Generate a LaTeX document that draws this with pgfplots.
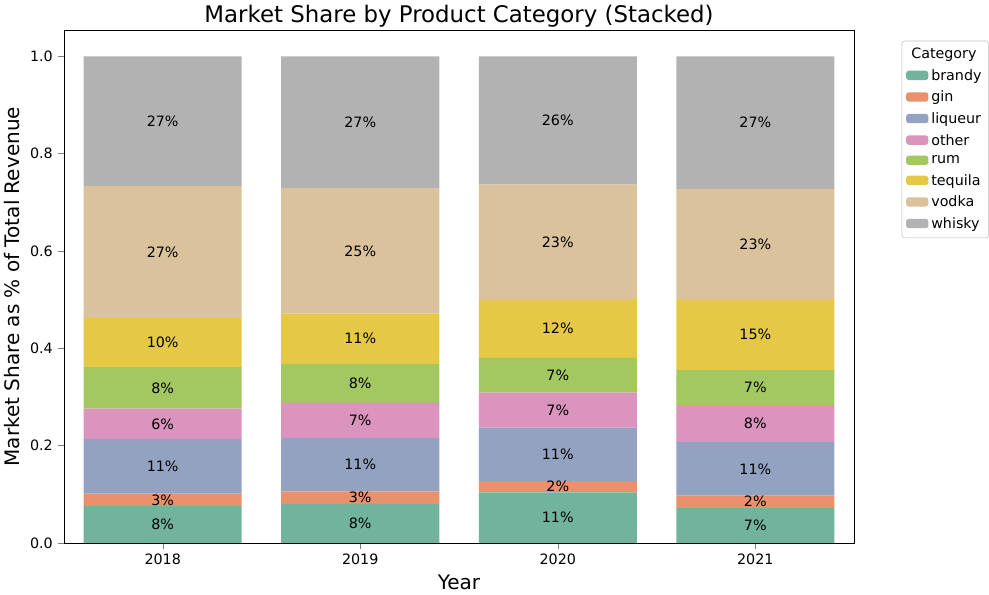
\documentclass[border=0pt]{standalone}
\usepackage{pgfplots}
\pgfplotsset{compat=1.18}
\usepackage{fontspec}
\setmainfont{DejaVu Sans}
\definecolor{cbrandy}{RGB}{114,179,158}
\definecolor{cgin}{RGB}{233,145,108}
\definecolor{cliq}{RGB}{148,162,193}
\definecolor{cother}{RGB}{218,148,190}
\definecolor{crum}{RGB}{163,200,98}
\definecolor{cteq}{RGB}{228,200,70}
\definecolor{cvodka}{RGB}{217,194,156}
\definecolor{cwhisky}{RGB}{178,178,178}
\pgfplotsset{common/.style={scale only axis, width=553pt, height=358.6pt,
  xmin=-0.5, xmax=3.5, ymin=0, ymax=1.053}}
\begin{document}
\begin{tikzpicture}
\begin{axis}[common,
  ybar stacked, bar width=0.8,
  xtick={0,1,2,3}, xticklabels={2018,2019,2020,2021},
  ytick={0,0.2,0.4,0.6,0.8,1.0},
  yticklabel style={/pgf/number format/fixed,/pgf/number format/precision=1,/pgf/number format/fixed zerofill},
  /pgf/number format/assume math mode=true,
  tick label style={font=\fontsize{10}{12}\selectfont},
  xlabel={Year}, ylabel={Market Share as \% of Total Revenue},
  label style={font=\fontsize{14}{16}\selectfont},
  title={Market Share by Product Category (Stacked)},
  title style={font=\fontsize{16}{19}\selectfont, yshift=-7pt},
  tick align=outside, xtick pos=bottom, ytick pos=left,
  legend style={at={(1.06,0.98)}, anchor=north west, font=\fontsize{10}{12}\selectfont, draw=black!25, rounded corners=2pt, row sep=2pt, inner sep=3pt},
  legend cell align=left,
  legend image code/.code={\fill[#1] (0cm,-0.1cm) rectangle (0.55cm,0.13cm);},
  draw=none,
]
\addlegendimage{empty legend}\addlegendentry{\hspace{-14pt}Category}
\addplot[fill=cbrandy,draw=none] coordinates {(0,0.076) (1,0.080) (2,0.104) (3,0.072)};
\addlegendentry{brandy}
\addplot[fill=cgin,draw=none] coordinates {(0,0.025) (1,0.026) (2,0.023) (3,0.025)};
\addlegendentry{gin}
\addplot[fill=cliq,draw=none] coordinates {(0,0.112) (1,0.110) (2,0.110) (3,0.110)};
\addlegendentry{liqueur}
\addplot[fill=cother,draw=none] coordinates {(0,0.063) (1,0.072) (2,0.072) (3,0.076)};
\addlegendentry{other}
\addplot[fill=crum,draw=none] coordinates {(0,0.085) (1,0.080) (2,0.071) (3,0.072)};
\addlegendentry{rum}
\addplot[fill=cteq,draw=none] coordinates {(0,0.101) (1,0.103) (2,0.121) (3,0.146)};
\addlegendentry{tequila}
\addplot[fill=cvodka,draw=none] coordinates {(0,0.271) (1,0.258) (2,0.235) (3,0.226)};
\addlegendentry{vodka}
\addplot[fill=cwhisky,draw=none] coordinates {(0,0.267) (1,0.271) (2,0.264) (3,0.273)};
\addlegendentry{whisky}
\end{axis}
\begin{axis}[common, axis lines=none, xtick=\empty, ytick=\empty,
  point meta=explicit symbolic, nodes near coords,
  every node near coord/.append style={font=\fontsize{10}{12}\selectfont, anchor=center}]
\addplot[only marks, mark=none] coordinates {
(0,0.038) [8\%] (0,0.0885) [3\%] (0,0.157) [11\%] (0,0.2445) [6\%] (0,0.3185) [8\%] (0,0.4115) [10\%] (0,0.5975) [27\%] (0,0.8665) [27\%]
(1,0.040) [8\%] (1,0.093) [3\%] (1,0.161) [11\%] (1,0.252) [7\%] (1,0.328) [8\%] (1,0.4195) [11\%] (1,0.600) [25\%] (1,0.8645) [27\%]
(2,0.052) [11\%] (2,0.1155) [2\%] (2,0.182) [11\%] (2,0.273) [7\%] (2,0.3445) [7\%] (2,0.4405) [12\%] (2,0.6185) [23\%] (2,0.868) [26\%]
(3,0.036) [7\%] (3,0.0845) [2\%] (3,0.152) [11\%] (3,0.245) [8\%] (3,0.319) [7\%] (3,0.428) [15\%] (3,0.614) [23\%] (3,0.8635) [27\%]
};
\end{axis}
\end{tikzpicture}
\end{document}
